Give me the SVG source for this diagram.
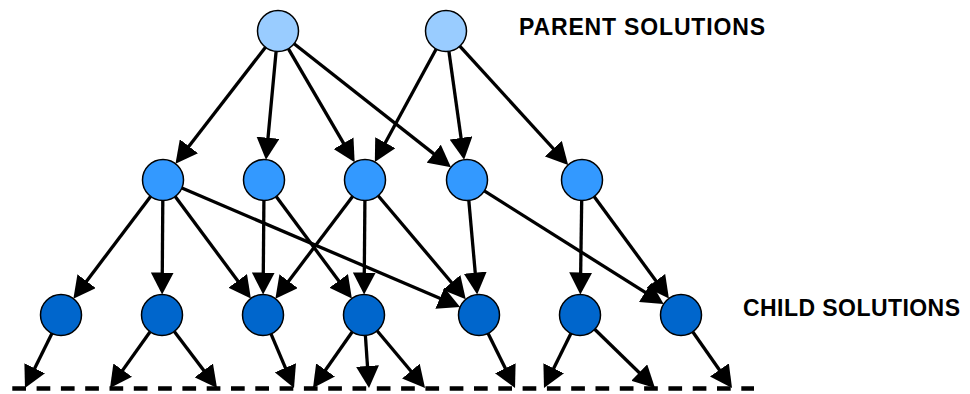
<svg xmlns="http://www.w3.org/2000/svg" width="970" height="394" viewBox="0 0 970 394">
  <defs>
    <marker id="arrow" markerUnits="userSpaceOnUse" markerWidth="22" markerHeight="23" viewBox="0 0 22 23" refX="12" refY="11.5" orient="auto">
      <path d="M0,0 L22,11.5 L0,23 z" fill="#000"/>
    </marker>
    <style>
      .node circle { stroke: #000; stroke-width: 1.5; }
      .parent circle { fill: #99CCFF; }
      .mid circle { fill: #3399FF; }
      .child circle { fill: #0066CC; }
      .edges line { stroke: #000; stroke-width: 3.3; marker-end: url(#arrow); }
      .label { font-family: "Liberation Sans", Arial, sans-serif; font-weight: bold; font-size: 23px; fill: #000; }
      .base { stroke: #000; stroke-width: 4.3; stroke-dasharray: 13.7 10.6; fill: none; }
    </style>
  </defs>
  <rect width="970" height="394" fill="#fff"/>

  <!-- connectors -->
  <g id="edges" class="edges">
    <!-- parents to middle generation -->
    <line x1="265.5" y1="47.2" x2="181.6" y2="155.8"/>
    <line x1="276.1" y1="51.4" x2="266.9" y2="149.7"/>
    <line x1="288.3" y1="48.7" x2="349.6" y2="153.6"/>
    <line x1="294.1" y1="43.7" x2="443.1" y2="161.1"/>
    <line x1="436.2" y1="49.0" x2="379.6" y2="153.2"/>
    <line x1="448.9" y1="51.3" x2="462.7" y2="149.8"/>
    <line x1="459.8" y1="46.1" x2="561.4" y2="157.5"/>
    <!-- middle generation to children -->
    <line x1="150.6" y1="196.4" x2="79.4" y2="290.7"/>
    <line x1="162.8" y1="200.5" x2="162.2" y2="284.5"/>
    <line x1="175.2" y1="196.5" x2="244.9" y2="290.5"/>
    <line x1="181.9" y1="188.1" x2="450.9" y2="303.0"/>
    <line x1="263.9" y1="200.5" x2="263.2" y2="284.5"/>
    <line x1="276.2" y1="196.5" x2="345.9" y2="290.5"/>
    <line x1="352.6" y1="196.4" x2="281.4" y2="290.7"/>
    <line x1="364.9" y1="200.5" x2="364.2" y2="284.5"/>
    <line x1="378.2" y1="195.7" x2="459.3" y2="291.7"/>
    <line x1="468.8" y1="200.4" x2="476.3" y2="284.6"/>
    <line x1="484.3" y1="190.9" x2="655.2" y2="298.7"/>
    <line x1="581.7" y1="200.5" x2="580.5" y2="284.5"/>
    <line x1="594.1" y1="196.5" x2="663.0" y2="290.4"/>
    <!-- children to further generations -->
    <line x1="51.9" y1="333.4" x2="29.4" y2="379.0"/>
    <line x1="150.1" y1="331.7" x2="115.8" y2="379.9"/>
    <line x1="174.3" y1="331.4" x2="211.0" y2="380.0"/>
    <line x1="271.0" y1="333.9" x2="290.1" y2="378.8"/>
    <line x1="352.3" y1="331.8" x2="318.7" y2="379.8"/>
    <line x1="365.4" y1="335.5" x2="368.3" y2="378.0"/>
    <line x1="377.1" y1="330.7" x2="418.6" y2="380.3"/>
    <line x1="488.1" y1="333.4" x2="510.6" y2="379.0"/>
    <line x1="570.9" y1="333.4" x2="548.4" y2="379.0"/>
    <line x1="594.7" y1="329.3" x2="647.8" y2="381.0"/>
    <line x1="692.7" y1="331.8" x2="726.3" y2="379.8"/>
  </g>

  <!-- dashed baseline -->
  <line class="base" x1="12.3" y1="388.5" x2="754" y2="388.5"/>

  <!-- parent solutions -->
  <g id="P1" class="node parent"><circle cx="278" cy="31" r="20.5"/></g>
  <g id="P2" class="node parent"><circle cx="446" cy="31" r="20.5"/></g>

  <!-- middle generation -->
  <g id="M1" class="node mid"><circle cx="163" cy="180" r="20.5"/></g>
  <g id="M2" class="node mid"><circle cx="264" cy="180" r="20.5"/></g>
  <g id="M3" class="node mid"><circle cx="365" cy="180" r="20.5"/></g>
  <g id="M4" class="node mid"><circle cx="467" cy="180" r="20.5"/></g>
  <g id="M5" class="node mid"><circle cx="582" cy="180" r="20.5"/></g>

  <!-- child solutions -->
  <g id="C1" class="node child"><circle cx="61" cy="315" r="20.5"/></g>
  <g id="C2" class="node child"><circle cx="162" cy="315" r="20.5"/></g>
  <g id="C3" class="node child"><circle cx="263" cy="315" r="20.5"/></g>
  <g id="C4" class="node child"><circle cx="364" cy="315" r="20.5"/></g>
  <g id="C5" class="node child"><circle cx="479" cy="315" r="20.5"/></g>
  <g id="C6" class="node child"><circle cx="580" cy="315" r="20.5"/></g>
  <g id="C7" class="node child"><circle cx="681" cy="315" r="20.5"/></g>

  <!-- labels -->
  <text id="label-parent" class="label" x="519" y="35" textLength="246" lengthAdjust="spacing">PARENT SOLUTIONS</text>
  <text id="label-child" class="label" x="743" y="316" textLength="217" lengthAdjust="spacing">CHILD SOLUTIONS</text>
</svg>
